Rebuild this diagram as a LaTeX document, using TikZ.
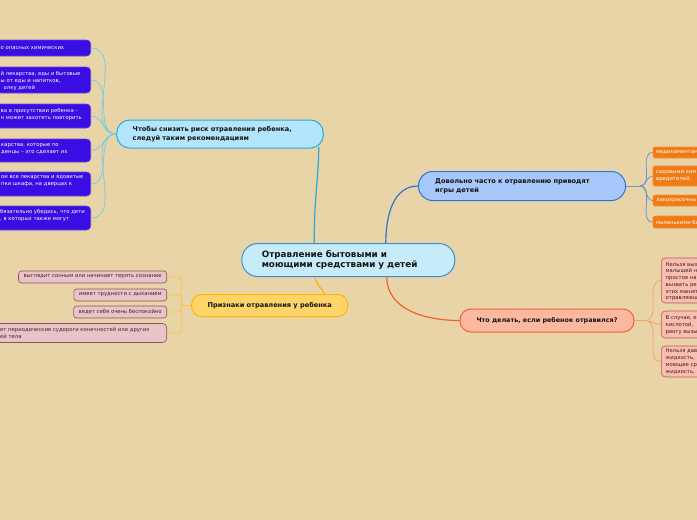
\documentclass[tikz,border=0pt]{standalone}
\usepackage{fontspec}
\setmainfont{DejaVu Sans}
\definecolor{bgc}{RGB}{233,212,168}
\definecolor{cfill}{RGB}{198,236,250}
\definecolor{cdraw}{RGB}{60,140,214}
\definecolor{tlfill}{RGB}{179,229,252}
\definecolor{tldraw}{RGB}{41,169,225}
\definecolor{rtfill}{RGB}{166,200,250}
\definecolor{rtdraw}{RGB}{46,116,216}
\definecolor{blfill}{RGB}{255,213,106}
\definecolor{bldraw}{RGB}{255,180,0}
\definecolor{brfill}{RGB}{253,184,160}
\definecolor{brdraw}{RGB}{240,96,48}
\definecolor{pfill}{RGB}{58,14,226}
\definecolor{pdraw}{RGB}{96,66,240}
\definecolor{ofill}{RGB}{240,122,20}
\definecolor{odraw}{RGB}{246,142,52}
\definecolor{qfill}{RGB}{250,190,176}
\definecolor{qdraw}{RGB}{180,90,80}
\definecolor{qtext}{RGB}{60,30,30}
\definecolor{sfill}{RGB}{232,196,200}
\definecolor{sdraw}{RGB}{140,80,96}
\definecolor{stext}{RGB}{70,30,40}
\definecolor{lcyan}{RGB}{120,205,225}
\definecolor{lblue}{RGB}{110,148,208}
\definecolor{lorange}{RGB}{249,160,112}
\definecolor{lyellow}{RGB}{252,196,70}
\definecolor{maintext}{RGB}{20,20,20}
\begin{document}
\begin{tikzpicture}[x=1pt,y=-1pt,
  mainc/.style={draw=cdraw,fill=cfill,line width=1pt,rounded corners=16pt,
    minimum width=213pt,minimum height=33pt,inner xsep=20pt,text width=173pt,align=left,
    font=\fontsize{8.8}{9.6}\selectfont\bfseries,text=maintext},
  tlbox/.style={draw=tldraw,fill=tlfill,line width=1pt,rounded corners=13pt,
    minimum width=206.6pt,minimum height=28pt,inner xsep=16pt,text width=174.6pt,align=left,
    font=\fontsize{6.6}{8.3}\selectfont\bfseries,text=maintext},
  rtbox/.style={draw=rtdraw,fill=rtfill,line width=1pt,rounded corners=14pt,
    minimum width=207pt,minimum height=29pt,inner xsep=16.7pt,text width=173.6pt,align=left,
    font=\fontsize{6.6}{9}\selectfont\bfseries,text=maintext},
  blbox/.style={draw=bldraw,fill=blfill,line width=1pt,rounded corners=10pt,
    minimum width=156pt,minimum height=22pt,inner sep=0pt,
    font=\fontsize{6.6}{8}\selectfont\bfseries,text=maintext},
  brbox/.style={draw=brdraw,fill=brfill,line width=1pt,rounded corners=11pt,
    minimum width=174pt,minimum height=23pt,inner sep=0pt,
    font=\fontsize{6.4}{8}\selectfont\bfseries,text=maintext},
  pbox/.style={draw=pdraw,fill=pfill,line width=0.6pt,rounded corners=4pt,minimum width=120pt,inner sep=0pt},
  ptext/.style={text=white,font=\fontsize{5.3}{7}\selectfont,align=left,inner sep=0pt,anchor=west},
  obox/.style={draw=odraw,fill=ofill,line width=0.6pt,rounded corners=2pt,minimum width=80pt,inner sep=0pt,anchor=west},
  otext/.style={text=white,font=\fontsize{5.3}{7}\selectfont,align=left,inner sep=0pt,anchor=west},
  qbox/.style={draw=qdraw,fill=qfill,line width=0.6pt,rounded corners=4pt,minimum width=80pt,inner sep=0pt,anchor=west},
  qtxt/.style={text=qtext,font=\fontsize{5.3}{6.75}\selectfont,align=left,inner sep=0pt,anchor=west},
  sbox/.style={draw=sdraw,fill=sfill,line width=0.6pt,rounded corners=3pt,inner xsep=5pt,inner ysep=0pt,
    minimum height=12pt,anchor=east,text=stext,font=\fontsize{5.3}{7}\selectfont},
  stxt/.style={text=stext,font=\fontsize{5.3}{7.5}\selectfont,align=left,inner sep=0pt,anchor=west},
  conn/.style={line width=1.2pt},
  sub/.style={line width=0.8pt}
]
\useasboundingbox (0,0) rectangle (697,520);
\fill[bgc] (0,0) rectangle (697,520);
\clip (0,0) rectangle (697,520);

% main nodes
\node[mainc] (c) at (348.3,260) {Отравление бытовыми и\\моющими средствами у детей};
\node[tlbox] (tl) at (220,134) {Чтобы снизить риск отравления ребенка,\\следуй таким рекомендациям};
\node[rtbox] (rt) at (522,186) {Довольно часто к отравлению приводят\\игры детей};
\node[blbox] (bl) at (269.7,305.5) {Признаки отравления у ребенка};
\node[brbox] (br) at (547,320.5) {Что делать, если ребенок отравился?};

% connector points
\path (c.north) ++(-34,0) coordinate (cA);
\path (c.north) ++(37.5,0) coordinate (cB);
\path (c.south) ++(-33,0) coordinate (cC);
\path (c.south) ++(38.5,0) coordinate (cD);
\path (tl.south east) ++(-5,-1.5) coordinate (tlB);
\path (bl.north) ++(55,0.5) coordinate (blT);

\draw[conn,tldraw] (cA) .. controls (314,200) and (318,185) .. (tlB);
\draw[conn,rtdraw] (cB) to[out=90,in=180] (rt.west);
\draw[conn,bldraw] (cC) to[out=-90,in=110] (blT);
\draw[conn,brdraw] (cD) to[out=-90,in=180] (br.west);

% purple boxes (left, clipped)
\node[pbox,minimum height=16pt,anchor=east] (p1) at (91,48) {};
\node[ptext] (pt1) at (0.5,48) {о опасных химических};
\node[pbox,minimum height=26pt,anchor=east] (p2) at (91,80) {};
\node[ptext] (pt2) at (0.5,80.5) {й лекарства, еды и бытовые\\ы от еды и напитков,\\\hspace*{3pt}олку детей};
\node[pbox,minimum height=24pt,anchor=east] (p3) at (91,116) {};
\node[ptext] (pt3) at (0.5,114.5) {ва в присутствии ребенка –\\н может захотеть повторить};
\node[pbox,minimum height=23pt,anchor=east] (p4) at (91,150.5) {};
\node[ptext] (pt4) at (1,148.5) {карства, которые по\\денцы – это сделает их};
\node[pbox,minimum height=24pt,anchor=east] (p5) at (91,184) {};
\node[ptext] (pt5) at (1,181.5) {ои все лекарства и ядовитые\\пки шкафа, на дверцах к};
\node[pbox,minimum height=24pt,anchor=east] (p6) at (91,218) {};
\node[ptext] (pt6) at (0,215.5) {бязательно убедись, что дети\\, в которых также могут};

\foreach \i in {1,...,6}{
  \draw[sub,lcyan] (tl.west) to[out=180,in=0] (p\i.east);
}

% orange boxes (right, clipped)
\coordinate (rtj) at (640,186);
\node[obox,minimum height=11pt] (o1) at (652.7,152.5) {};
\node[otext] (ot1) at (656,152.5) {медикаментам};
\node[obox,minimum height=20pt] (o2) at (652.7,176) {};
\node[otext] (ot2) at (656,176.5) {садовыми хим\\вредителей;};
\node[obox,minimum height=11pt] (o3) at (652.7,200.5) {};
\node[otext] (ot3) at (656,200.5) {лакокрасочны};
\node[obox,minimum height=12pt] (o4) at (652.7,222) {};
\node[otext] (ot4) at (656,222) {маленькими ба};
\draw[sub,lblue] (rt.east) -- (rtj);
\foreach \i in {1,...,4}{
  \draw[sub,lblue] (rtj) to[out=0,in=180] (o\i.west);
}

% pink boxes (right, clipped)
\coordinate (brj) at (645,320.5);
\node[qbox,minimum height=45pt] (q1) at (661,280.5) {};
\node[qtxt] (qt1) at (665.5,281.5) {Нельзя выз\\малышей н\\простое на\\вызвать ре\\этих манип\\отравляющ};
\node[qbox,minimum height=27pt] (q2) at (661,324.5) {};
\node[qtxt] (qt2) at (665.5,325) {В случае, е\\кислотой, \\рвоту вызы};
\node[qbox,minimum height=31pt] (q3) at (661,361.5) {};
\node[qtxt] (qt3) at (665.5,361.5) {Нельзя дав\\жидкость, \\моющее ср\\жидкость, };
\draw[sub,lorange] (br.east) -- (brj);
\foreach \i in {1,...,3}{
  \draw[sub,lorange] (brj) to[out=0,in=180] (q\i.west);
}

% bottom-left boxes
\node[sbox] (s1) at (167,277) {выглядит сонным или начинает терять сознание};
\node[sbox] (s2) at (167,295) {имеет трудности с дыханием};
\node[sbox] (s3) at (167,312) {ведет себя очень беспокойно};
\node[pbox,draw=sdraw,fill=sfill,minimum width=200pt,minimum height=19pt,anchor=east] (s4) at (167,333) {};
\node[stxt] (st4) at (0,333) {ет периодические судороги конечностей или других\\ей тела};
\coordinate (blj) at (181.7,305.5);
\draw[sub,lyellow] (bl.west) -- (blj);
\foreach \i in {1,...,4}{
  \draw[sub,lyellow,rounded corners=4pt] (blj) |- (s\i.east);
}
\end{tikzpicture}
\end{document}
